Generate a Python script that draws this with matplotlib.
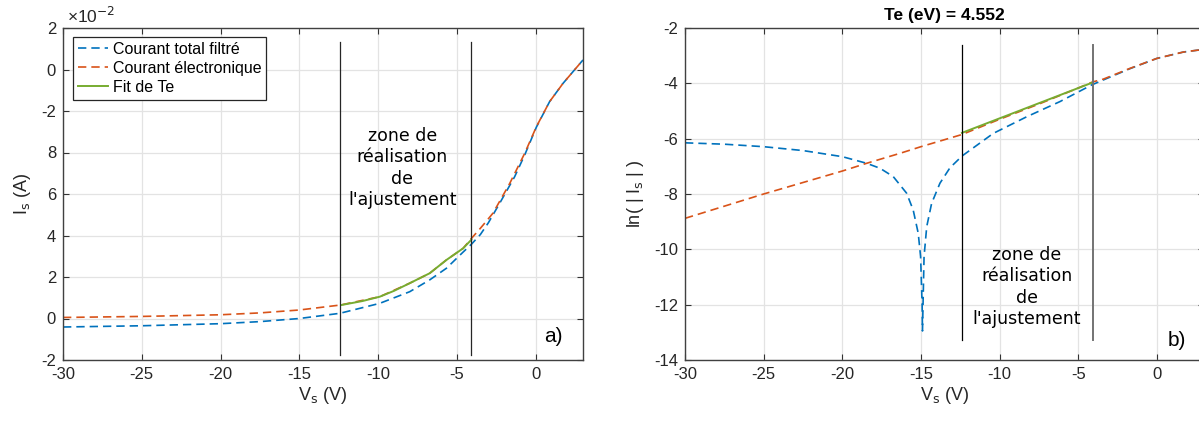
import matplotlib
matplotlib.use('Agg')
import matplotlib.pyplot as plt

# ---- data ----
# left panel, current in units of 1e-2 A
vs_total = [-30, -25, -20, -17.5, -15, -12.43, -9.9, -8.0, -6.73, -5.67, -4.61, -4.08, -3.51, -3.0, -2.29,
            -1.34, -0.7, 0.04, 0.88, 1.73, 3]
is_total = [-0.41, -0.35, -0.25, -0.15, 0.0, 0.25, 0.73, 1.29, 1.86, 2.42, 3.2, 3.58, 4.05, 4.62, 5.55,
            6.83, 7.88, 9.22, 10.45, 11.33, 12.46]
vs_elec = [-30, -25, -20, -17.5, -15, -12.39, -9.9, -8.0, -6.73, -5.67, -4.61, -4.08, -3.51, -3.1, -2.71,
           -1.65, -0.7, 0.04, 0.88, 1.73, 3]
is_elec = [0.05, 0.10, 0.18, 0.27, 0.41, 0.65, 1.05, 1.70, 2.18, 2.82, 3.38, 3.86, 4.35, 4.72, 5.08,
           6.51, 7.96, 9.24, 10.45, 11.33, 12.46]
vs_fit = [-12.33, -11, -9.9, -9, -8.0, -6.73, -5.67, -4.61, -4.08]
is_fit = [0.65, 0.84, 1.05, 1.33, 1.70, 2.18, 2.82, 3.38, 3.80]

# right panel, ln(|Is|)
vs_ln_total = [-30, -27.5, -25, -22.5, -20, -18.45, -17.6, -16.76, -15.91, -15.49, -15.17, -15.02, -14.92, -14.9,
               -14.8, -14.63, -14.32, -13.79, -13.15, -12.37, -10.4, -8.28, -6.16, -4.15, -3.41, -1.71, 0, 1.68, 2.61, 3]
ln_total = [-6.15, -6.2, -6.29, -6.43, -6.65, -6.89, -7.07, -7.37, -7.97, -8.58, -9.42, -10.26, -12.07, -12.95,
            -10.26, -9.18, -8.34, -7.61, -7.05, -6.62, -5.81, -5.21, -4.66, -4.06, -3.88, -3.47, -3.1, -2.87, -2.8, -2.78]
vs_ln_elec = [-30, -25, -20, -18.45, -16.33, -15, -12.39, -10, -7.5, -5, -4.08, -3.41, -1.71, 0, 1.68, 2.61, 3]
ln_elec = [-8.88, -8.0, -7.17, -6.89, -6.53, -6.29, -5.85, -5.3, -4.75, -4.17, -3.95, -3.85, -3.46, -3.1, -2.87, -2.8, -2.78]
vs_ln_fit = [-12.39, -8.28, -4.08]
ln_fit = [-5.79, -4.89, -3.97]

te_ev = 4.552
zone_limits = [-12.39, -4.08]

left_yticks = [-2, 0, 2, 4, 6, 8, 10, 12, 14]
left_yticklabels = ['-2', '0', '2', '4', '6', '8', '-2', '0', '2']
xticks = [-30, -25, -20, -15, -10, -5, 0]

c_blue = '#0072BD'
c_orange = '#D95319'
c_green = '#77AC30'

plt.rcParams['font.family'] = ['Liberation Sans', 'DejaVu Sans']
plt.rcParams['font.size'] = 11.5
plt.rcParams['axes.unicode_minus'] = False

fig = plt.figure(figsize=(11.99, 4.21), dpi=100)
ax1 = fig.add_axes([63 / 1199, 61 / 421, 520 / 1199, 332 / 421])
ax2 = fig.add_axes([685 / 1199, 61 / 421, 519 / 1199, 332 / 421])

dash = (0, (5, 3))
zone_text = "zone de\nréalisation\nde\nl'ajustement"


def style(ax):
    ax.grid(True, color='#e3e3e3', linewidth=0.9)
    ax.set_axisbelow(True)
    ax.tick_params(direction='in', top=True, right=True, length=4, width=0.8,
                   color='0.2', labelcolor='0.15', labelsize=12, pad=5)
    for s in ax.spines.values():
        s.set_color('0.25')
        s.set_linewidth(1.0)
    ax.set_xticks(xticks)
    ax.set_xlim(-30, 3)


# ---- left panel ----
style(ax1)
ax1.plot(vs_total, is_total, color=c_blue, lw=1.2, linestyle=dash, label='Courant total filtré')
ax1.plot(vs_elec, is_elec, color=c_orange, lw=1.2, linestyle=dash, label='Courant électronique')
ax1.plot(vs_fit, is_fit, color=c_green, lw=1.4, label='Fit de Te')
for xv in zone_limits:
    ax1.plot([xv, xv], [-1.76, 13.34], color='0.15', lw=0.9)
ax1.set_ylim(-2, 14)
ax1.set_yticks(left_yticks)
ax1.set_yticklabels(left_yticklabels)
ax1.set_xlabel('V$_\\mathrm{s}$ (V)', fontsize=13, color='0.15', labelpad=2)
ax1.set_ylabel('I$_\\mathrm{s}$ (A)', fontsize=13, color='0.15', labelpad=6)
ax1.text(0.008, 1.005, '×10$^{-2}$', transform=ax1.transAxes, ha='left', va='bottom',
         fontsize=12.5, color='0.15')
ax1.text(-8.46, 7.25, zone_text, ha='center', va='center',
         family='DejaVu Sans', fontsize=12.5, linespacing=1.25, color='k')
ax1.text(0.96, 0.07, 'a)', transform=ax1.transAxes, ha='right', va='center', fontsize=15)
leg = ax1.legend(loc='upper left', bbox_to_anchor=(0.019, 0.973), borderaxespad=0,
                 fancybox=False, framealpha=1, edgecolor='0.15', fontsize=11.5,
                 handlelength=1.9, handletextpad=0.3, borderpad=0.3, labelspacing=0.25)
leg.get_frame().set_linewidth(0.9)

# ---- right panel ----
style(ax2)
ax2.plot(vs_ln_total, ln_total, color=c_blue, lw=1.2, linestyle=dash)
ax2.plot(vs_ln_elec, ln_elec, color=c_orange, lw=1.2, linestyle=dash)
ax2.plot(vs_ln_fit, ln_fit, color=c_green, lw=1.4)
ax2.plot([zone_limits[0]] * 2, [-13.28, -2.61], color='k', lw=0.9)
ax2.plot([zone_limits[1]] * 2, [-13.28, -2.61], color='0.45', lw=1.4)
ax2.set_ylim(-14, -2)
ax2.set_yticks([-14, -12, -10, -8, -6, -4, -2])
ax2.set_xlabel('V$_\\mathrm{s}$ (V)', fontsize=13, color='0.15', labelpad=2)
ax2.set_ylabel('ln( | I$_\\mathrm{s}$ | )', fontsize=13, color='0.15', labelpad=6)
ax2.set_title('Te (eV) = {:.3f}'.format(te_ev), fontweight='bold', fontsize=12.5, pad=6)
ax2.text(-8.28, -11.36, zone_text, ha='center', va='center',
         family='DejaVu Sans', fontsize=12.5, linespacing=1.25, color='k')
ax2.text(1.3, -13.3, 'b)', ha='center', va='center', fontsize=15)

fig.savefig('out.png', dpi=100)
plt.close(fig)
